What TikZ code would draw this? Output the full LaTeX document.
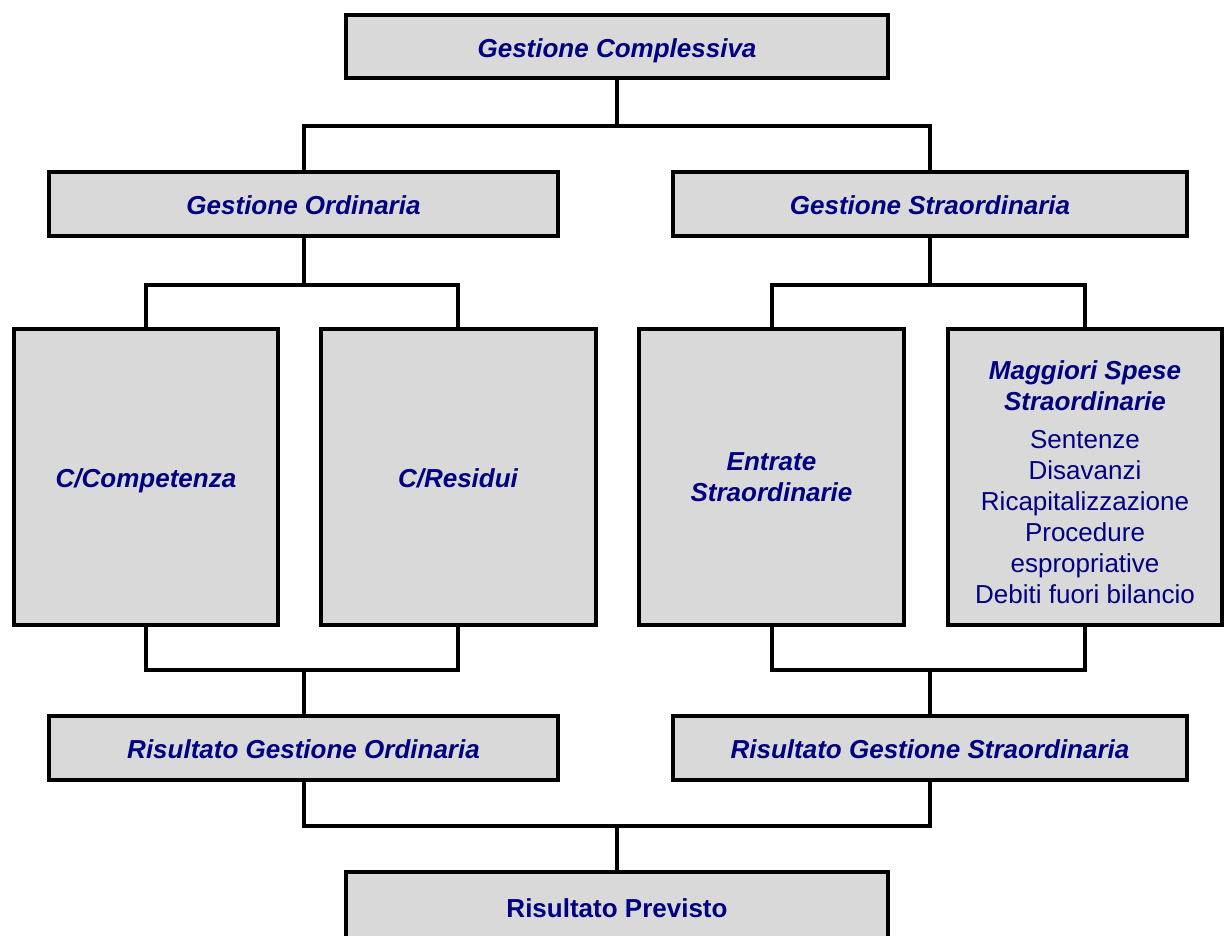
\documentclass[tikz,border=0pt]{standalone}
\usepackage{fontspec}
\setmainfont{Liberation Sans}
\usetikzlibrary{calc}
\definecolor{boxgray}{RGB}{217,217,217}
\definecolor{navytext}{RGB}{0,0,128}
\newcommand\myreg{\mdseries\upshape}
\begin{document}
\begin{tikzpicture}[x=1pt,y=-1pt,
  box/.style={draw=black, line width=4pt, fill=boxgray, text=navytext,
    font=\fontsize{26}{31}\selectfont\bfseries\itshape, inner sep=0pt,
    align=center},
  oneline/.style={text height=21pt, text depth=0pt},
  wide/.style={box, oneline, minimum width=#1, minimum height=64pt},
  tall/.style={box, minimum width=#1, minimum height=296pt},
  conn/.style={draw=black, line width=4pt}]
\useasboundingbox (0,0) rectangle (1228,935);
\fill[white] (0,0) rectangle (1228,935);
% boxes
\node[wide=542pt, minimum height=63pt] (gc) at (617,46.5) {Gestione Complessiva};
\node[wide=509pt] (go) at (303.5,204) {Gestione Ordinaria};
\node[wide=514pt] (gs) at (930,204) {Gestione Straordinaria};
\node[tall=264pt, oneline] (cc) at (146,477) {C/Competenza};
\node[tall=275pt, oneline] (cr) at (458,477) {C/Residui};
\node[tall=265pt] (es) at (771.5,477) {Entrate\\Straordinarie};
\node[tall=274pt] (ms) at (1085,477) {\rule{0pt}{29pt}Maggiori Spese\\Straordinarie\\[7pt]%
  \myreg Sentenze\\\myreg Disavanzi\\\myreg Ricapitalizzazione\\\myreg Procedure\\\myreg espropriative\\\myreg Debiti fuori bilancio};
\node[wide=509pt] (rgo) at (303.5,748) {Risultato Gestione Ordinaria};
\node[wide=514pt] (rgs) at (930,748) {Risultato Gestione Straordinaria};
\node[wide=542pt, minimum height=70pt, font=\fontsize{26}{31}\selectfont\bfseries] (rp) at (617,907) {Risultato Previsto};
% junctions
\coordinate (j1) at ($(gc.south)+(0,46)$);
\coordinate (j2) at ($(go.south)+(0,47)$);
\coordinate (j3) at ($(gs.south)+(0,47)$);
\coordinate (j4) at ($(rgo.north)+(0,-44)$);
\coordinate (j5) at ($(rgs.north)+(0,-44)$);
\coordinate (j6) at ($(rp.north)+(0,-44)$);
% connectors
\draw[conn] (gc.south) -- (j1);
\draw[conn] (go.north) |- (j1) -| (gs.north);
\draw[conn] (go.south) -- (j2);
\draw[conn] (cc.north) |- (j2) -| (cr.north);
\draw[conn] (gs.south) -- (j3);
\draw[conn] (es.north) |- (j3) -| (ms.north);
\draw[conn] (cc.south) |- (j4) -| (cr.south);
\draw[conn] (j4) -- (rgo.north);
\draw[conn] (es.south) |- (j5) -| (ms.south);
\draw[conn] (j5) -- (rgs.north);
\draw[conn] (rgo.south) |- (j6) -| (rgs.south);
\draw[conn] (j6) -- (rp.north);
\end{tikzpicture}
\end{document}
